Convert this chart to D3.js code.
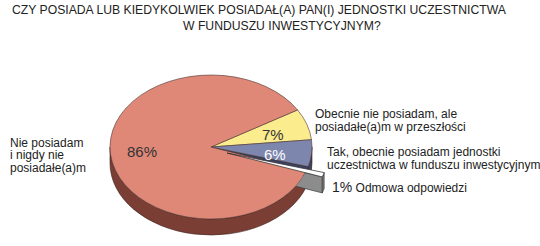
<!DOCTYPE html>
<html>
<head>
<meta charset="utf-8">
<script src="https://cdn.jsdelivr.net/npm/d3@7"></script>
<style>
  body { margin: 0; background: #fff; }
  svg { display: block; font-family: "Liberation Sans", Arial, sans-serif; }
</style>
</head>
<body>
<svg id="chart" width="540" height="246"></svg>
<script>
// data
var titleLines = ["CZY POSIADA LUB KIEDYKOLWIEK POSIADAŁ(A) PAN(I) JEDNOSTKI UCZESTNICTWA",
                  "W FUNDUSZU INWESTYCYJNYM?"];
var categories = ["Obecnie nie posiadam, ale posiadałe(a)m w przeszłości",
                  "Tak, obecnie posiadam jednostki uczestnictwa w funduszu inwestycyjnym",
                  "Odmowa odpowiedzi",
                  "Nie posiadam i nigdy nie posiadałe(a)m"];
var values = [7, 6, 1, 86];
var valueLabels = ["7%", "6%", "1%", "86%"];
var topColors = ["#fbec8e", "#7d86ad", "#ffffff", "#df8877"];
var sideColors = ["#b9a94e", "#3c4262", "#8c8c8c", "#7b3e34"];

var svg = d3.select("#chart");
var W = 540, H = 246;

var cx = 211, cy = 147, rx = 101, ry = 72, depth = 16;
var explodeIdx = 2, explodeDx = 16, explodeDy = 6;

// title
svg.append("text").attr("x", 12).attr("y", 14).attr("font-size", 12.2).attr("fill", "#222")
    .text(titleLines[0]);
svg.append("text").attr("x", 183).attr("y", 30).attr("font-size", 12.2).attr("fill", "#222")
    .text(titleLines[1]);

var startT = -31 * Math.PI / 180;
var pie = d3.pie().sort(null).value(function(d) { return d; })
    .startAngle(startT + Math.PI / 2).endAngle(startT + Math.PI / 2 + 2 * Math.PI);
var arcs = pie(values).map(function(d, i) {
    return { i: i, a0: d.startAngle - Math.PI / 2, a1: d.endAngle - Math.PI / 2 };
});

function pt(t, ox, oy, h) {
    return [ox + rx * Math.cos(t), oy + ry * Math.sin(t) + (h || 0)];
}

function topPath(a, ox, oy) {
    var p0 = pt(a.a0, ox, oy), p1 = pt(a.a1, ox, oy);
    var large = (a.a1 - a.a0) > Math.PI ? 1 : 0;
    return "M" + ox + "," + oy + "L" + p0 + "A" + rx + "," + ry + " 0 " + large + " 1 " + p1 + "Z";
}

function wallPaths(a, ox, oy) {
    var out = [];
    [[0, Math.PI], [2 * Math.PI, 3 * Math.PI], [-2 * Math.PI, -Math.PI]].forEach(function(r) {
        var s = Math.max(a.a0, r[0]), e = Math.min(a.a1, r[1]);
        if (e <= s) return;
        var t0 = pt(s, ox, oy), t1 = pt(e, ox, oy);
        var b0 = pt(s, ox, oy, depth), b1 = pt(e, ox, oy, depth);
        out.push("M" + t0 + "A" + rx + "," + ry + " 0 0 1 " + t1 + "L" + b1 +
                 "A" + rx + "," + ry + " 0 0 0 " + b0 + "Z");
    });
    return out;
}

function facePath(t, ox, oy) {
    var p = pt(t, ox, oy), q = pt(t, ox, oy, depth);
    return "M" + ox + "," + oy + "L" + p + "L" + q + "L" + ox + "," + (oy + depth) + "Z";
}

// clip: everything outside the main pie's top ellipse
svg.append("defs").append("clipPath").attr("id", "outside")
  .append("path").attr("clip-rule", "evenodd")
    .attr("d", "M0,0H" + W + "V" + H + "H0Z" +
               "M" + (cx - rx) + "," + cy + "a" + rx + "," + ry + " 0 1 0 " + (2 * rx) + ",0" +
               "a" + rx + "," + ry + " 0 1 0 " + (-2 * rx) + ",0Z");

var main = svg.append("g");
var ex = svg.append("g");

// main pie walls
arcs.forEach(function(a) {
    if (a.i === explodeIdx) return;
    wallPaths(a, cx, cy).forEach(function(p) {
        main.append("path").attr("d", p).attr("fill", sideColors[a.i])
            .attr("stroke", "#3a1f1a").attr("stroke-width", 0.6);
    });
});
// face next to the gap left by exploded slice
var prev = arcs[explodeIdx - 1];
if (Math.cos(prev.a1) > 0) {
    main.append("path").attr("d", facePath(prev.a1, cx, cy)).attr("fill", sideColors[prev.i])
        .attr("stroke", "#222").attr("stroke-width", 0.6);
}
arcs.forEach(function(a) {
    if (a.i === explodeIdx) return;
    main.append("path").attr("d", topPath(a, cx, cy)).attr("fill", topColors[a.i])
        .attr("stroke", "#4a3430").attr("stroke-width", 0.6);
});

// exploded slice
var ea = arcs[explodeIdx];
var ox = cx + explodeDx, oy = cy + explodeDy;
if (Math.cos(ea.a1) > 0) {
    ex.append("path").attr("d", facePath(ea.a1, ox, oy)).attr("fill", sideColors[ea.i])
        .attr("clip-path", "url(#outside)")
        .attr("stroke", "#333").attr("stroke-width", 0.6);
}
wallPaths(ea, ox, oy).forEach(function(p) {
    ex.append("path").attr("d", p).attr("fill", "#777")
        .attr("stroke", "#333").attr("stroke-width", 0.6);
});
ex.append("path").attr("d", topPath(ea, ox, oy)).attr("fill", topColors[ea.i])
    .attr("stroke", "#222").attr("stroke-width", 0.7);

// values on slices
var valuePos = [[262, 140], [264, 160], null, [127, 157]];
var valueFill = ["#333", "#fff", null, "#333"];
valueLabels.forEach(function(v, i) {
    if (!valuePos[i]) return;
    svg.append("text").attr("x", valuePos[i][0]).attr("y", valuePos[i][1])
        .attr("font-size", 15).attr("fill", valueFill[i]).text(v);
});

// category labels
var lab = svg.append("g").attr("font-size", 12).attr("fill", "#222");
function lines(x, y, arr, lh) {
    arr.forEach(function(s, k) {
        lab.append("text").attr("x", x).attr("y", y + k * lh).text(s);
    });
}
lines(315, 118, ["Obecnie nie posiadam, ale", "posiadałe(a)m w przeszłości"], 12.5);
lines(327, 156, ["Tak, obecnie posiadam jednostki", "uczestnictwa w funduszu inwestycyjnym"], 13);
lines(10, 146.5, ["Nie posiadam", "i nigdy nie", "posiadałe(a)m"], 12.6);
var odm = lab.append("text").attr("x", 332).attr("y", 191.5);
odm.append("tspan").attr("font-size", 14).text(valueLabels[2]);
odm.append("tspan").text(" " + categories[2]);
</script>
</body>
</html>
